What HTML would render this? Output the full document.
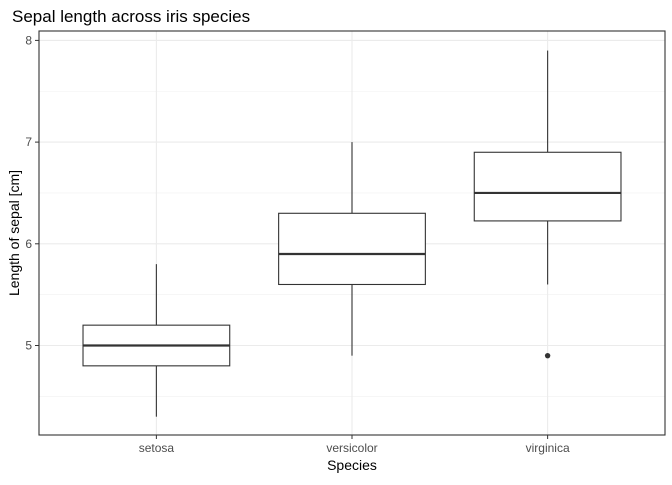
<!DOCTYPE html>
<html><head><meta charset="utf-8"><style>
body{margin:0;background:#fff;font-family:"Liberation Sans",Arial,sans-serif;}
</style></head><body>
<svg width="672" height="480" xmlns="http://www.w3.org/2000/svg" font-family="Liberation Sans, Arial, sans-serif">
<text x="12" y="22" font-size="17" fill="#000">Sepal length across iris species</text>
<g id="grid"></g>
<g id="boxes"></g>
<rect x="39" y="31" width="626" height="404" fill="none" stroke="#333" stroke-width="1.1"/>
<g id="axes"></g>
<text x="352" y="470" font-size="14" text-anchor="middle" fill="#000">Species</text>
<text transform="translate(19,233) rotate(-90)" font-size="14" text-anchor="middle" fill="#000">Length of sepal [cm]</text>
</svg>
<script>
const categories=["setosa","versicolor","virginica"];
const q1=[4.8,5.6,6.225];
const medians=[5.0,5.9,6.5];
const q3=[5.2,6.3,6.9];
const whiskerLow=[4.3,4.9,5.6];
const whiskerHigh=[5.8,7.0,7.9];
const outlierCat=[2];
const outlierVal=[4.9];
const yTicks=[5,6,7,8];
const yMinor=[4.5,5.5,6.5,7.5];

const L=39,R=665,T=31,B=435;
const xs=i=>L+(i+1-0.4)*(R-L)/3.2;
const ys=v=>345.5-(v-5)*101.7;
const bw=0.75*(R-L)/3.2;
const NS="http://www.w3.org/2000/svg";
function mk(tag,attrs,parent){const e=document.createElementNS(NS,tag);for(const k in attrs)e.setAttribute(k,attrs[k]);parent.appendChild(e);return e;}
const grid=document.getElementById('grid'),boxes=document.getElementById('boxes'),axes=document.getElementById('axes');
yMinor.forEach(v=>{const l=mk('line',{x1:L,x2:R,y1:ys(v),y2:ys(v),stroke:'#f0f0f0','stroke-width':0.6},grid);

});
yTicks.forEach(v=>{const l=mk('line',{x1:L,x2:R,y1:ys(v),y2:ys(v),stroke:'#ebebeb','stroke-width':1.1},grid);


const t=mk('line',{x1:L-4,x2:L,y1:ys(v),y2:ys(v),stroke:'#333'},axes);


const tx=mk('text',{x:L-7,y:ys(v)+4,'font-size':12,'text-anchor':'end',fill:'#4d4d4d'},axes);tx.textContent=v;

});
categories.forEach((c,i)=>{const x=xs(i);
const g=mk('line',{x1:x,x2:x,y1:T,y2:B,stroke:'#ebebeb','stroke-width':1.1},grid);


const grp=mk('g',{},boxes);


mk('line',{x1:x,x2:x,y1:ys(whiskerHigh[i]),y2:ys(q3[i]),stroke:'#333','stroke-width':1.1},grp);
mk('line',{x1:x,x2:x,y1:ys(q1[i]),y2:ys(whiskerLow[i]),stroke:'#333','stroke-width':1.1},grp);
mk('rect',{x:x-bw/2,y:ys(q3[i]),width:bw,height:ys(q1[i])-ys(q3[i]),fill:'#fff',stroke:'#333','stroke-width':1.1},grp);
mk('line',{x1:x-bw/2,x2:x+bw/2,y1:ys(medians[i]),y2:ys(medians[i]),stroke:'#333','stroke-width':2.2},grp);
const t=mk('line',{x1:x,x2:x,y1:B,y2:B+4,stroke:'#333'},axes);


const tx=mk('text',{x:x,y:B+17,'font-size':12,'text-anchor':'middle',fill:'#4d4d4d'},axes);tx.textContent=c;

});
outlierCat.forEach((ci,k)=>{const p=mk('circle',{cx:xs(ci),cy:ys(outlierVal[k]),r:2.7,fill:'#333'},boxes);

});
</script>
</body></html>
